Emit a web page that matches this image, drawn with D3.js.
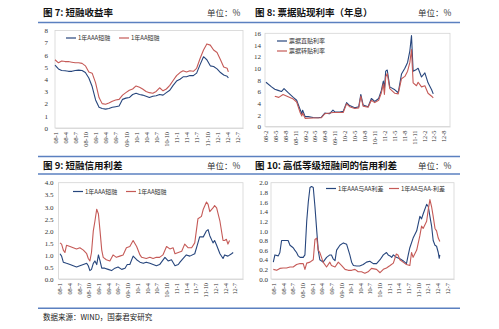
<!DOCTYPE html>
<html><head><meta charset="utf-8">
<script src="https://cdn.jsdelivr.net/npm/d3@7"></script>
<style>body{margin:0;background:#fff}svg{display:block}</style>
</head><body>
<svg id="c" width="499" height="329"></svg>
<script>
// ---------------- DATA ----------------
// Fig 7: 1Y short-term financing bill yields (%)
const fig7Dates = ["2008-01-01","2008-02-01","2008-03-01","2008-04-01","2008-05-01","2008-06-01","2008-07-01","2008-08-01","2008-09-01","2008-10-01","2008-11-01","2008-12-01",
"2009-01-01","2009-02-01","2009-03-01","2009-04-01","2009-05-01","2009-06-01","2009-07-01","2009-08-01","2009-09-01","2009-10-01","2009-11-01","2009-12-01",
"2010-01-01","2010-02-01","2010-03-01","2010-04-01","2010-05-01","2010-06-01","2010-07-01","2010-08-01","2010-09-01","2010-10-01","2010-11-01","2010-12-01",
"2011-01-01","2011-02-01","2011-03-01","2011-04-01","2011-05-01","2011-06-01","2011-07-01","2011-08-01","2011-09-01","2011-10-01","2011-11-01","2011-12-01",
"2012-01-01","2012-02-01","2012-03-01","2012-04-01","2012-04-12"];
const fig7AAA = [5.15,4.85,4.72,4.70,4.65,4.65,4.72,4.75,4.72,4.55,4.1,3.4,
2.3,1.7,1.6,1.55,1.6,1.7,1.75,1.8,2.35,2.45,2.5,2.75,
2.85,2.75,2.7,2.6,2.5,2.6,2.65,2.75,2.7,2.9,3.1,3.5,
3.85,4.0,4.2,4.2,4.3,4.3,4.5,5.2,5.85,5.6,5.1,5.05,
4.85,4.55,4.35,4.25,4.1];
const fig7AA = [5.6,5.35,5.5,5.45,5.45,5.4,5.35,5.35,5.3,5.1,4.6,4.5,
3.7,2.5,2.0,1.95,2.05,2.2,2.3,2.35,2.7,2.9,3.1,3.2,
3.45,3.35,3.2,3.0,2.9,2.85,3.0,3.3,3.05,3.2,3.5,3.9,
4.3,4.55,4.7,4.6,4.7,4.65,4.9,5.7,6.4,6.9,6.8,6.4,
6.2,5.6,5.0,4.9,4.6];
const fig7XLabels = ["08-1","08-4","08-7","08-10","09-1","09-4","09-7","09-10","10-1","10-4","10-7","10-10","11-1","11-4","11-7","11-10","12-1","12-4","12-7"];
const fig7YTicks = [0,1,2,3,4,5,6,7,8];

// Fig 8: bill discount rates (annualised, %)
const fig8DirectDates = ["2008-02-10","2008-04-01","2008-05-01","2008-06-01","2008-07-01","2008-07-25","2008-09-01","2008-10-18","2008-11-18","2008-12-18",
"2009-01-04","2009-01-12","2009-02-04","2009-03-04","2009-04-18","2009-06-04","2009-07-04","2009-08-04","2009-09-18","2009-10-18","2009-11-04","2009-12-20",
"2010-01-20","2010-02-20","2010-03-20","2010-05-06","2010-06-12","2010-07-01","2010-07-22","2010-09-06","2010-10-06","2010-11-06","2010-12-12",
"2011-01-06","2011-01-24","2011-02-03","2011-02-15","2011-03-01","2011-03-24","2011-05-10","2011-06-10","2011-07-10","2011-08-10","2011-09-04","2011-09-25","2011-10-10","2011-10-25","2011-11-25","2011-12-10",
"2012-01-10","2012-02-10","2012-03-10","2012-04-12","2012-04-27"];
const fig8Direct = [7.6,6.8,6.4,6.2,6.0,6.5,5.8,5.0,4.5,3.0,
2.2,2.8,1.7,1.7,1.55,1.5,1.6,2.3,2.2,2.8,2.5,2.5,
2.6,4.1,3.6,3.2,3.4,5.5,3.7,3.4,4.8,4.3,4.8,
6.2,7.8,6.5,9.5,9.7,6.8,6.3,5.8,9.0,10.0,11.0,13.0,15.6,9.5,9.8,10.0,
8.5,9.2,7.5,6.3,5.6];
const fig8RediscDates = ["2008-05-01","2008-06-07","2008-07-16","2008-09-01","2008-10-18","2008-11-18","2008-12-18",
"2009-01-04","2009-01-12","2009-02-04","2009-04-18","2009-07-04","2009-08-04","2009-10-18",
"2010-01-20","2010-02-20","2010-03-20","2010-05-06","2010-06-12","2010-07-01","2010-07-22","2010-09-06","2010-10-06","2010-11-06","2010-12-12",
"2011-01-06","2011-01-24","2011-02-03","2011-02-15","2011-03-01","2011-03-24","2011-05-10","2011-06-10","2011-07-10","2011-08-10","2011-09-04","2011-09-25","2011-10-10","2011-10-25","2011-11-25","2011-12-10",
"2012-01-10","2012-02-10","2012-03-10","2012-04-12","2012-04-27"];
const fig8Rediscount = [5.2,5.0,5.5,5.1,4.7,4.2,2.5,
1.8,2.3,1.4,1.45,1.5,2.2,2.4,
2.4,3.9,3.4,3.1,3.2,5.2,3.5,3.3,4.5,4.1,4.5,
5.8,7.3,5.5,8.5,9.1,6.5,5.7,5.6,8.2,8.6,9.5,11.0,13.2,7.5,7.0,7.6,
6.8,7.0,5.7,5.2,4.9];
const fig8XLabels = ["08-2","08-5","08-8","08-11","09-2","09-5","09-8","09-11","10-2","10-5","10-8","10-11","11-2","11-5","11-8","11-11","12-2","12-5","12-8"];
const fig8YTicks = [0,2,4,6,8,10,12,14,16];

// Fig 9: credit spreads of short-term financing bills (%)
const fig9AAADates = ["2008-01-07","2008-01-22","2008-02-07","2008-03-08","2008-04-10","2008-05-10","2008-06-10","2008-07-11","2008-08-13","2008-09-13","2008-09-28","2008-10-13","2008-10-28","2008-11-14","2008-11-29","2008-12-16",
"2009-01-01","2009-01-16","2009-02-01","2009-03-01","2009-04-02","2009-05-04","2009-06-04","2009-07-04","2009-08-07","2009-09-07","2009-09-28","2009-10-22","2009-11-22","2009-12-25",
"2010-01-25","2010-02-25","2010-03-25","2010-04-28","2010-05-28","2010-06-28","2010-07-28","2010-09-16","2010-10-16","2010-11-16","2010-12-19",
"2011-01-19","2011-02-04","2011-03-04","2011-04-04","2011-05-07","2011-06-22","2011-07-22","2011-08-07","2011-09-10","2011-10-10","2011-10-25","2011-11-10","2011-12-10","2011-12-25",
"2012-01-13","2012-02-13","2012-03-13","2012-03-28","2012-04-28","2012-06-01","2012-06-16"];
const fig9AAA = [1.05,0.95,0.7,0.65,0.6,0.55,0.5,0.55,0.6,0.65,0.55,0.35,0.4,0.65,0.75,0.6,
1.0,0.75,0.45,0.45,0.4,0.35,0.45,0.5,0.4,0.45,0.6,0.6,0.95,0.8,
0.7,0.65,0.7,0.65,0.6,0.55,0.6,0.9,0.75,0.8,0.55,
0.6,0.7,0.85,1.0,0.95,1.05,1.5,1.75,1.75,2.0,2.05,1.8,1.5,1.6,
1.4,1.05,0.85,1.0,0.95,1.05,1.1];
const fig9AADates = ["2008-01-07","2008-01-22","2008-02-07","2008-02-22","2008-03-08","2008-04-10","2008-05-10","2008-06-10","2008-07-11","2008-08-13","2008-09-13","2008-09-28","2008-10-13","2008-10-28","2008-11-14","2008-11-29","2008-12-16",
"2009-01-01","2009-01-16","2009-02-01","2009-02-15","2009-03-16","2009-04-18","2009-05-18","2009-06-18","2009-07-20","2009-08-20","2009-09-20","2009-10-22","2009-11-22","2009-12-25",
"2010-01-25","2010-02-10","2010-03-25","2010-04-28","2010-05-28","2010-06-28","2010-07-28","2010-08-28","2010-10-01","2010-11-01","2010-12-01","2010-12-19",
"2011-01-19","2011-02-20","2011-03-20","2011-04-20","2011-05-24","2011-06-22","2011-07-22","2011-08-24","2011-09-10","2011-10-10","2011-10-25","2011-11-10","2011-12-10","2011-12-25",
"2012-01-13","2012-02-13","2012-03-13","2012-03-28","2012-04-13","2012-04-28","2012-05-13"];
const fig9AA = [1.5,1.45,1.2,1.1,1.4,1.35,1.3,1.25,1.3,1.2,1.05,0.85,0.75,1.1,2.0,2.4,2.9,
2.7,2.0,1.2,0.9,0.8,0.75,1.0,0.9,0.95,1.0,1.3,1.35,1.6,1.35,
1.0,0.9,0.85,0.9,0.85,0.9,0.9,1.0,1.35,1.25,1.3,1.05,
1.1,1.15,1.45,1.3,1.3,1.5,2.5,2.6,2.9,3.2,3.1,2.8,2.95,3.05,
2.95,2.4,1.6,1.6,1.65,1.45,1.6];
const fig9XLabels = fig7XLabels;
const fig9YTicks = [0,0.5,1,1.5,2,2.5,3,3.5,4];

// Fig 10: spreads between rating grades (%)
const fig10AAAvsAADates = ["2008-01-01","2008-01-16","2008-02-17","2008-03-03","2008-03-19","2008-05-05","2008-05-20","2008-06-07","2008-07-07","2008-07-22","2008-08-08","2008-08-24","2008-09-10","2008-10-10","2008-10-26","2008-11-12","2008-11-27","2008-12-13","2008-12-28",
"2009-01-13","2009-01-29","2009-02-15","2009-03-01","2009-03-16","2009-04-16","2009-05-19","2009-06-19","2009-07-04","2009-07-20","2009-08-07","2009-08-22","2009-09-22","2009-10-25","2009-11-25","2009-12-25",
"2010-01-11","2010-01-28","2010-02-28","2010-03-28","2010-05-01","2010-06-01","2010-07-02","2010-08-04","2010-09-04","2010-10-07","2010-11-07","2010-12-07","2010-12-23",
"2011-01-10","2011-01-25","2011-02-10","2011-03-10","2011-04-13","2011-05-13","2011-06-14","2011-07-01","2011-07-16","2011-08-16","2011-09-19","2011-10-19","2011-11-04","2011-11-19","2011-12-22",
"2012-01-07","2012-01-22","2012-02-07","2012-02-22","2012-03-10","2012-03-25","2012-04-10","2012-04-19","2012-04-25"];
const fig10AAAvsAA = [0.35,0.5,0.48,0.55,0.8,0.8,0.8,0.7,0.65,0.6,0.55,0.48,0.45,0.45,0.5,1.2,1.6,1.9,1.92,
1.9,1.5,1.0,0.6,0.4,0.35,0.45,0.5,0.5,0.42,0.38,0.6,0.7,0.75,0.72,0.5,
0.35,0.28,0.27,0.27,0.3,0.35,0.37,0.32,0.32,0.4,0.5,0.55,0.5,
0.48,0.45,0.5,0.45,0.42,0.38,0.32,0.5,0.65,0.85,1.0,1.3,1.25,1.35,1.55,
1.5,1.3,1.1,0.8,0.7,0.68,0.55,0.43,0.5];
const fig10AAvsAAmDates = ["2008-01-01","2008-02-02","2008-03-03","2008-04-03","2008-05-05","2008-06-07","2008-07-07","2008-08-08","2008-09-10","2008-10-10","2008-10-26","2008-11-12","2008-12-13",
"2009-01-13","2009-01-29","2009-02-15","2009-03-01","2009-03-16","2009-04-01","2009-04-16","2009-05-19","2009-06-19","2009-07-04","2009-08-07","2009-09-07","2009-10-09","2009-11-10","2009-12-10",
"2010-01-11","2010-02-12","2010-03-14","2010-04-15","2010-05-16","2010-06-16","2010-07-18","2010-09-04","2010-10-07","2010-11-07","2010-12-07",
"2011-01-10","2011-02-10","2011-03-10","2011-03-26","2011-04-13","2011-05-13","2011-06-14","2011-07-16","2011-08-01","2011-08-16","2011-09-19","2011-10-19","2011-11-04","2011-11-19","2011-12-22",
"2012-01-07","2012-01-22","2012-02-07","2012-02-22","2012-03-10","2012-03-25","2012-04-10","2012-04-25"];
const fig10AAvsAAm = [0.2,0.18,0.22,0.23,0.23,0.25,0.25,0.3,0.32,0.32,0.2,0.33,0.35,
0.4,0.82,0.85,0.6,0.55,0.45,0.35,0.25,0.35,0.28,0.25,0.35,0.28,0.2,0.18,
0.18,0.2,0.15,0.15,0.12,0.15,0.22,0.2,0.13,0.2,0.23,
0.28,0.33,0.52,0.5,0.4,0.35,0.3,0.28,0.55,0.45,0.6,0.9,1.1,1.05,1.2,
1.45,1.65,1.5,1.3,1.05,1.0,0.85,0.78];
const fig10XLabels = fig7XLabels;
const fig10YTicks = [0,0.2,0.4,0.6,0.8,1,1.2,1.4,1.6,1.8,2];

// ---------------- DRAWING ----------------
const parse = d3.timeParse("%Y-%m-%d");
const parseLabel = d3.timeParse("%y-%m");
const svg = d3.select("#c");
const CJK = "'Noto Sans CJK SC', 'Noto Sans CJK JP', sans-serif";
const NUM = "'Liberation Serif', 'DejaVu Serif', serif";
const BLUE = "#27467d", RED = "#c55a57", RULE = "#5b80c0";

// section rules
[22.5, 156.5, 174, 308.3].forEach(yy => {
  svg.append("line").attr("x1", 38).attr("x2", 460).attr("y1", yy).attr("y2", yy)
    .attr("stroke", RULE).attr("stroke-width", 1.4);
});

function heading(x, y, title, unitX) {
  svg.append("text").attr("x", x).attr("y", y).text(title)
    .attr("font-family", CJK).attr("font-weight", "bold").attr("font-size", 9.5).attr("fill", "#111");
  svg.append("text").attr("x", unitX).attr("y", y).text("单位：%")
    .attr("font-family", CJK).attr("font-size", 8.5).attr("fill", "#333");
}
heading(43, 16, "图 7:  短融收益率", 207);
heading(255, 16, "图 8:  票据贴现利率（年息）", 418);
heading(43, 168.5, "图 9:  短融信用利差", 207);
heading(255, 168.5, "图 10:  高低等级短融间的信用利差", 418);
svg.append("text").attr("x", 43).attr("y", 319.5).text("数据来源：WIND，国泰君安研究")
  .attr("font-family", CJK).attr("font-size", 7.5).attr("fill", "#222");

function panel(cfg) {
  const x = d3.scaleTime().domain([parse(cfg.x0), parse(cfg.x1)]).range([cfg.l, cfg.r]);
  const y = d3.scaleLinear().domain([cfg.yTicks[0], cfg.yTicks[cfg.yTicks.length - 1]]).range([cfg.b, cfg.t]);
  const g = svg.append("g");
  g.append("rect").attr("x", cfg.l).attr("y", cfg.t).attr("width", cfg.r - cfg.l).attr("height", cfg.b - cfg.t)
    .attr("fill", "none").attr("stroke", "#d4d4d4").attr("stroke-width", 0.8);

  const ya = d3.axisLeft(y).tickValues(cfg.yTicks).tickFormat(cfg.yFmt).tickSize(0).tickPadding(cfg.yPad);
  const yg = g.append("g").attr("transform", `translate(${cfg.l},0)`).call(ya);
  yg.select(".domain").remove();
  yg.selectAll("text").attr("font-family", NUM).attr("font-size", 7).attr("fill", "#333");

  const xa = d3.axisBottom(x).tickValues(cfg.xLabels.map(s => parseLabel(s)))
    .tickFormat((d, i) => cfg.xLabels[i]).tickSize(0);
  const xg = g.append("g").attr("transform", `translate(0,${cfg.b})`).call(xa);
  xg.select(".domain").attr("stroke", "#d4d4d4").attr("stroke-width", 0.8);
  xg.selectAll("text").attr("transform", "rotate(-90)").attr("text-anchor", "end")
    .attr("x", -4).attr("y", 0).attr("dy", "0.35em")
    .attr("font-family", NUM).attr("font-size", 6.3).attr("fill", "#333");

  cfg.series.forEach(s => {
    const pts = s.dates.map((d, i) => ({ d: parse(d), v: s.values[i] }));
    const line = d3.line().x(p => x(p.d)).y(p => y(p.v));
    g.append("path").attr("d", line(pts)).attr("fill", "none")
      .attr("stroke", s.color).attr("stroke-width", 1.1).attr("stroke-linejoin", "round");
    g.append("line").attr("x1", s.lx).attr("x2", s.lx + 10).attr("y1", s.ly).attr("y2", s.ly)
      .attr("stroke", s.color).attr("stroke-width", 1.2);
    g.append("text").attr("x", s.lx + 12).attr("y", s.ly).attr("dy", "0.35em").text(s.name)
      .attr("font-family", CJK).attr("font-size", 6).attr("fill", "#333");
  });
}

panel({ l: 55, r: 243, t: 30.5, b: 128, x0: "2008-01-01", x1: "2012-08-22",
  yTicks: fig7YTicks, yFmt: d3.format("d"), yPad: 7, xLabels: fig7XLabels,
  series: [
    { name: "1年AAA短融", dates: fig7Dates, values: fig7AAA, color: BLUE, lx: 66, ly: 38 },
    { name: "1年AA短融", dates: fig7Dates, values: fig7AA, color: RED, lx: 119, ly: 38 }
  ] });

panel({ l: 265, r: 450, t: 33.3, b: 126.5, x0: "2008-02-01", x1: "2012-09-28",
  yTicks: fig8YTicks, yFmt: d3.format("d"), yPad: 4, xLabels: fig8XLabels,
  series: [
    { name: "票据直贴利率", dates: fig8DirectDates, values: fig8Direct, color: BLUE, lx: 277, ly: 41 },
    { name: "票据转贴利率", dates: fig8RediscDates, values: fig8Rediscount, color: RED, lx: 277, ly: 51 }
  ] });

panel({ l: 58.5, r: 243, t: 182.7, b: 279, x0: "2007-12-24", x1: "2012-09-16",
  yTicks: fig9YTicks, yFmt: d3.format(".1f"), yPad: 5, xLabels: fig9XLabels,
  series: [
    { name: "1年AAA短融", dates: fig9AAADates, values: fig9AAA, color: BLUE, lx: 73, ly: 191.5 },
    { name: "1年AA短融", dates: fig9AADates, values: fig9AA, color: RED, lx: 126, ly: 191.5 }
  ] });

panel({ l: 271, r: 454, t: 182.7, b: 279, x0: "2007-12-10", x1: "2012-09-06",
  yTicks: fig10YTicks, yFmt: d3.format(".1f"), yPad: 3, xLabels: fig10XLabels,
  series: [
    { name: "1年AAA与AA利差", dates: fig10AAAvsAADates, values: fig10AAAvsAA, color: BLUE, lx: 326, ly: 188.5 },
    { name: "1年AA与AA-利差", dates: fig10AAvsAAmDates, values: fig10AAvsAAm, color: RED, lx: 389, ly: 188.5 }
  ] });
</script>
</body></html>
